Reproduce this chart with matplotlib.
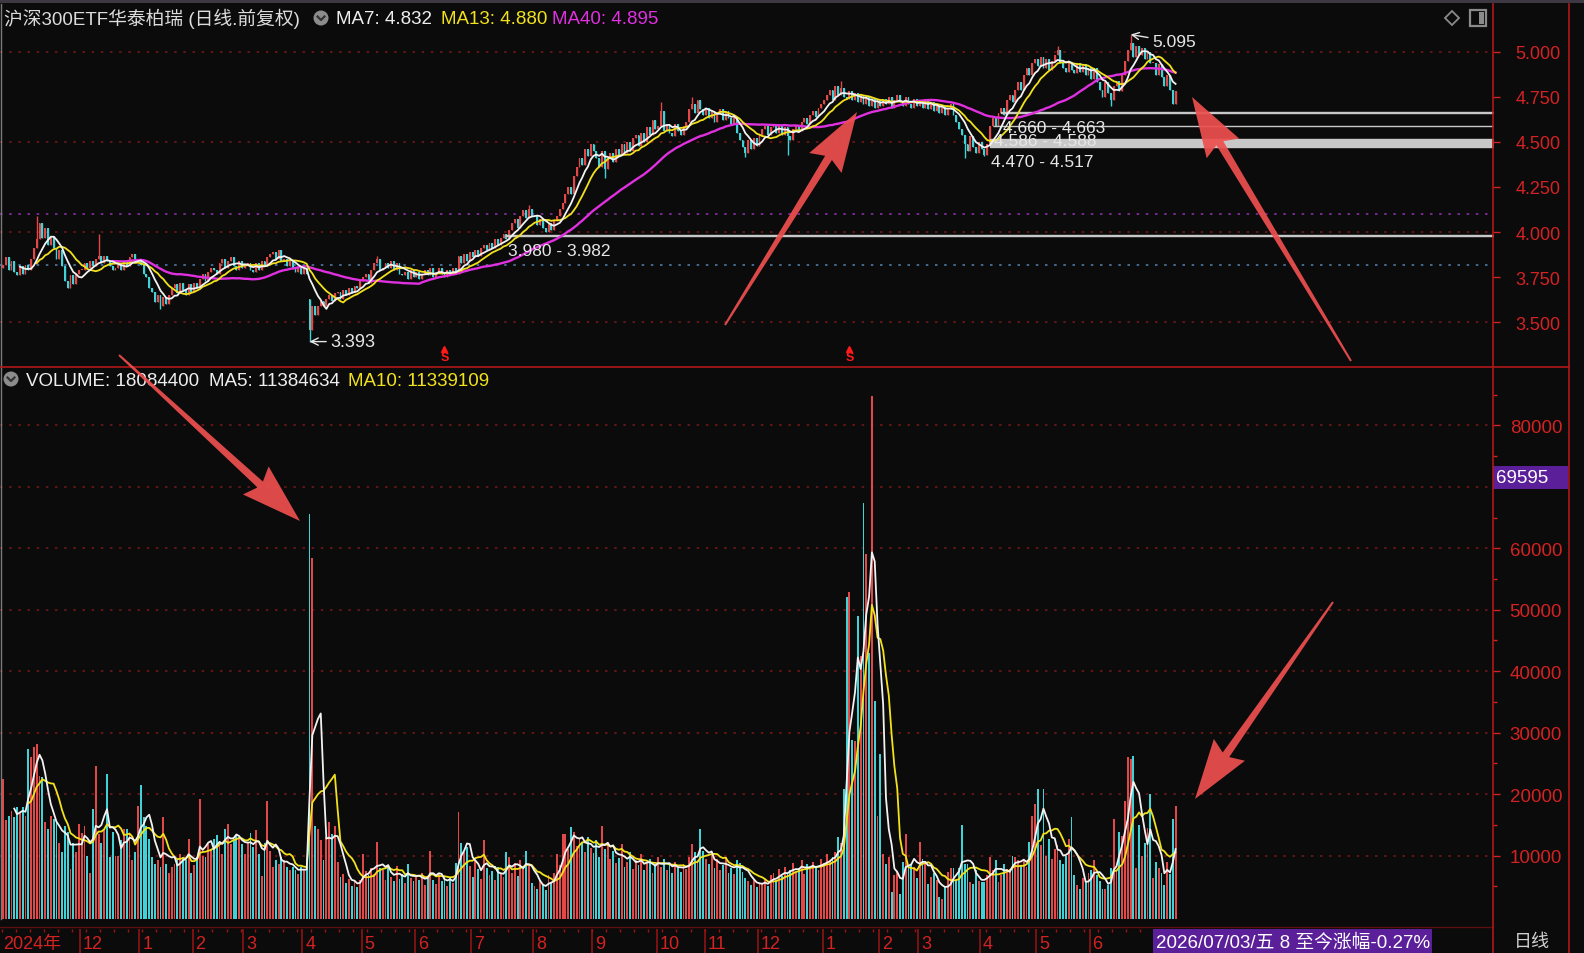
import numpy as np
import pandas as pd
import matplotlib
matplotlib.use("Agg")
import matplotlib.pyplot as plt
import matplotlib.transforms as mtransforms
from matplotlib.patches import Polygon, Rectangle, Circle

plt.rcParams["font.family"] = ["Liberation Sans", "Noto Sans CJK SC", "DejaVu Sans"]

# ---- daily closes, one list per month ----
close_nov24 = [3.82, 3.86, 3.79, 3.84, 3.78, 3.76, 3.81, 3.77, 3.82, 3.79,
               3.85, 3.91, 3.96, 4.05, 3.97, 4.02, 3.93, 3.98, 3.91, 3.85,
               3.90, 3.81, 3.73, 3.69, 3.76, 3.71, 3.77, 3.79]
close_dec24 = [3.79, 3.83, 3.80, 3.84, 3.81, 3.85, 3.87, 3.83, 3.87, 3.84,
               3.81, 3.79, 3.80, 3.82, 3.79, 3.84, 3.81, 3.86, 3.88, 3.84, 3.85]
close_jan25 = [3.82, 3.77, 3.75, 3.69, 3.67, 3.61, 3.65, 3.59, 3.64, 3.60,
               3.65, 3.69, 3.71, 3.66, 3.72, 3.68, 3.65, 3.71, 3.67]
close_feb25 = [3.72, 3.69, 3.74, 3.77, 3.73, 3.78, 3.80, 3.79, 3.77, 3.83,
               3.85, 3.80, 3.84, 3.86, 3.81, 3.79, 3.84, 3.80]
close_mar25 = [3.81, 3.83, 3.79, 3.78, 3.83, 3.79, 3.84, 3.81, 3.86, 3.88,
               3.89, 3.85, 3.90, 3.84, 3.85, 3.81, 3.84, 3.80, 3.78, 3.81, 3.77]
close_apr25 = [3.80, 3.77, 3.46, 3.59, 3.54, 3.59, 3.62, 3.59, 3.63, 3.65,
               3.62, 3.66, 3.67, 3.63, 3.68, 3.65, 3.69, 3.66, 3.70, 3.69, 3.73]
close_may25 = [3.75, 3.77, 3.72, 3.79, 3.83, 3.85, 3.79, 3.80, 3.83, 3.80,
               3.84, 3.79, 3.83, 3.77, 3.76, 3.78, 3.74, 3.79, 3.75]
close_jun25 = [3.78, 3.74, 3.77, 3.79, 3.76, 3.80, 3.75, 3.78, 3.80, 3.77,
               3.75, 3.79, 3.76, 3.80, 3.77, 3.87, 3.83, 3.88, 3.84, 3.89]
close_jul25 = [3.86, 3.90, 3.87, 3.91, 3.93, 3.90, 3.94, 3.91, 3.96, 3.93,
               3.97, 3.99, 3.96, 4.01, 4.05, 4.07, 4.02, 4.09, 4.12, 4.08, 4.13, 4.09]
close_aug25 = [4.09, 4.04, 4.07, 4.02, 4.00, 4.05, 4.01, 4.06, 4.09, 4.13,
               4.16, 4.21, 4.25, 4.21, 4.31, 4.36, 4.41, 4.37, 4.46, 4.42, 4.49]
close_sep25 = [4.45, 4.41, 4.36, 4.45, 4.35, 4.41, 4.44, 4.39, 4.46, 4.43,
               4.49, 4.44, 4.50, 4.45, 4.52, 4.54, 4.48, 4.55, 4.50, 4.58,
               4.54, 4.62, 4.57]
close_oct25 = [4.59, 4.67, 4.56, 4.60, 4.55, 4.53, 4.60, 4.56, 4.54, 4.59,
               4.61, 4.68, 4.71, 4.66, 4.73, 4.68, 4.65]
close_nov25 = [4.69, 4.63, 4.67, 4.61, 4.66, 4.68, 4.62, 4.67, 4.63, 4.60,
               4.64, 4.55, 4.51, 4.47, 4.44, 4.51, 4.46, 4.52, 4.48]
close_dec25 = [4.54, 4.57, 4.59, 4.54, 4.58, 4.60, 4.55, 4.59, 4.54, 4.58,
               4.53, 4.51, 4.57, 4.59, 4.56, 4.61, 4.63, 4.60, 4.65, 4.67,
               4.64, 4.69, 4.71]
close_jan26 = [4.73, 4.76, 4.79, 4.73, 4.81, 4.76, 4.80, 4.75, 4.74, 4.78,
               4.73, 4.77, 4.72, 4.76, 4.71, 4.75, 4.70, 4.74, 4.69, 4.73]
close_feb26 = [4.70, 4.74, 4.71, 4.75, 4.69, 4.73, 4.76, 4.72, 4.70, 4.75,
               4.71, 4.69, 4.74, 4.70]
close_mar26 = [4.73, 4.69, 4.74, 4.68, 4.72, 4.67, 4.71, 4.66, 4.70, 4.65,
               4.69, 4.71, 4.65, 4.61, 4.57, 4.54, 4.49, 4.45, 4.53, 4.47, 4.44, 4.50]
close_apr26 = [4.46, 4.43, 4.49, 4.59, 4.63, 4.59, 4.66, 4.69, 4.65, 4.73,
               4.76, 4.72, 4.79, 4.83, 4.79, 4.87, 4.91, 4.87, 4.94, 4.96]
close_may26 = [4.92, 4.97, 4.91, 4.96, 4.90, 4.95, 4.98, 5.01, 4.94, 4.91,
               4.89, 4.94, 4.90, 4.88, 4.94, 4.89, 4.93, 4.87, 4.91]
close_jun26 = [4.85, 4.91, 4.83, 4.79, 4.75, 4.83, 4.77, 4.73, 4.81, 4.84,
               4.78, 4.87, 4.95, 5.01, 5.05, 4.97, 5.03, 4.98, 5.02, 4.96, 5.00, 4.94]
close_jul26 = [4.94, 4.87, 4.93, 4.86, 4.81, 4.87, 4.79, 4.71, 4.78]

# ---- volume, in the units of the right axis ----
vol_nov24 = [22500, 15700, 16500, 17300, 16200, 17900, 17100, 17900, 16500, 27300,
             26000, 27600, 28100, 23000, 22700, 15400, 14300, 16500, 16000, 15400,
             12000, 10500, 14800, 13800, 7800, 12000, 10500, 15100]
vol_dec24 = [13700, 14800, 10000, 7200, 17600, 24600, 13500, 12000, 14300, 23300,
             9700, 13800, 10000, 10000, 12500, 14300, 14300, 13500, 9200, 10500, 18100]
vol_jan25 = [21400, 16200, 14800, 12700, 9700, 8700, 9300, 8100, 16300, 8700,
             7100, 8200, 8700, 9200, 10300, 9700, 9200, 12700, 7200]
vol_feb25 = [8500, 9700, 19200, 10000, 9700, 11900, 11000, 12700, 13300, 12200,
             10300, 14300, 15100, 11900, 12500, 13300, 13000, 11900]
vol_mar25 = [10300, 12000, 13600, 11400, 14200, 10300, 6600, 12000, 18900, 10800,
             8100, 9200, 8700, 9800, 9200, 8100, 7600, 8100, 7600, 7000, 8200]
vol_apr25 = [7600, 8100, 65600, 58400, 14800, 14300, 12500, 9200, 13000, 15500,
             13500, 14800, 9000, 6500, 7000, 5500, 6200, 5000, 5800, 4800, 6000]
vol_may25 = [10200, 7500, 6800, 8000, 7000, 12200, 8000, 7600, 6000, 8400,
             6500, 5800, 8300, 6200, 7000, 5600, 8600, 6400, 5800]
vol_jun25 = [6900, 6000, 7200, 5200, 6400, 10800, 6000, 5400, 7000, 5800,
             6500, 5000, 6400, 5600, 8800, 17100, 12000, 10500, 11400, 8300]
vol_jul25 = [6500, 9200, 7800, 6200, 12500, 8000, 6800, 7500, 6000, 8200,
             7000, 6500, 10500, 9760, 7200, 8800, 6600, 9200, 7800, 10800, 8400, 5500]
vol_aug25 = [5000, 4600, 6000, 5200, 4400, 6800, 5600, 7200, 10200, 8500,
             13500, 13500, 11000, 14600, 13800, 11600, 12800, 12000, 10500, 13000, 11200]
vol_sep25 = [10400, 12500, 9800, 14800, 11000, 12200, 9500, 10800, 8800, 9600,
             11800, 8200, 9000, 10500, 7800, 9200, 8500, 10200, 7600, 8800,
             9500, 7200, 8600]
vol_oct25 = [9800, 8200, 9400, 7600, 8800, 7200, 9000, 8000, 7400, 8600,
             7800, 9800, 11800, 10600, 9200, 14300, 10800]
vol_nov25 = [9400, 8600, 10200, 8000, 9400, 7600, 8400, 9800, 7200, 8000,
             7000, 9200, 8800, 7400, 6400, 5800, 5200, 6000, 4800]
vol_dec25 = [5600, 5400, 6200, 5000, 6800, 7200, 6000, 7800, 6600, 8200,
             7000, 7600, 8800, 7400, 8000, 9200, 7000, 8600, 7800, 9000,
             8200, 7600, 9400]
vol_jan26 = [8800, 10200, 9200, 9800, 10500, 13000, 12000, 20800, 52000, 52900,
             28800, 28600, 48900, 42500, 67400, 59000, 43000, 84800, 35100, 16400]
vol_feb26 = [26500, 10200, 8600, 9800, 4000, 6800, 7500, 3700, 9000, 13500,
             8000, 8600, 8200, 6300]
vol_mar26 = [12200, 9500, 8600, 5300, 6500, 7100, 6000, 3300, 3000, 5000,
             7400, 7900, 7900, 6000, 7900, 14900, 8600, 8600, 5700, 5400, 7600, 5800]
vol_apr26 = [5700, 5700, 6800, 9800, 7600, 9200, 5700, 6800, 8600, 7800,
             7800, 10000, 9800, 9200, 8400, 9200, 8200, 12200, 16500, 18400]
vol_may26 = [20800, 11700, 20800, 10000, 12700, 9500, 11000, 11700, 9200, 8600,
             10000, 12700, 16200, 6800, 5200, 4600, 6300, 5700, 7100]
vol_jun26 = [7600, 9200, 6800, 5800, 4600, 4600, 5200, 7900, 16000, 7600,
             13800, 13200, 18900, 26000, 25700, 26200, 7900, 14900, 10000, 12000,
             14400, 20000]
vol_jul26 = [6300, 9000, 7900, 7200, 5200, 9000, 7000, 16000, 18084]

month_labels = ["2024年", "12", "1", "2", "3", "4", "5", "6", "7", "8", "9",
                "10", "11", "12", "1", "2", "3", "4", "5", "6", ""]

# candles whose open / wick differ from the plain body
open_fix = {0: 3.80, 109: 3.63}
high_fix = {12: 4.09, 34: 3.99, 133: 3.87, 187: 4.15, 234: 4.72, 245: 4.75,
            298: 4.84, 375: 5.03, 401: 5.095}
low_fix = {56: 3.575, 109: 3.393, 214: 4.30, 264: 4.415, 279: 4.43, 342: 4.41,
           349: 4.42, 394: 4.70}

# price zones drawn on the chart
zone_lo = [3.980, 4.660, 4.586, 4.470]
zone_hi = [3.982, 4.663, 4.588, 4.517]
zone_start = [179, 355, 352, 351]
level_purple = 4.10
level_blue = 3.815
signal_idx = [157, 301]

closes_by_month = [close_nov24, close_dec24, close_jan25, close_feb25, close_mar25,
                   close_apr25, close_may25, close_jun25, close_jul25, close_aug25,
                   close_sep25, close_oct25, close_nov25, close_dec25, close_jan26,
                   close_feb26, close_mar26, close_apr26, close_may26, close_jun26,
                   close_jul26]
vols_by_month = [vol_nov24, vol_dec24, vol_jan25, vol_feb25, vol_mar25, vol_apr25,
                 vol_may25, vol_jun25, vol_jul25, vol_aug25, vol_sep25, vol_oct25,
                 vol_nov25, vol_dec25, vol_jan26, vol_feb26, vol_mar26, vol_apr26,
                 vol_may26, vol_jun26, vol_jul26]

close = np.concatenate(closes_by_month).astype(float)
vol = np.concatenate(vols_by_month).astype(float)
n = len(close)
idx = np.arange(n)
month_start = np.cumsum([0] + [len(m) for m in closes_by_month[:-1]])

opn = np.r_[close[0], close[:-1]]
for k, v in open_fix.items():
    opn[k] = v
hi = np.maximum(opn, close)
lo = np.minimum(opn, close)
for k, v in high_fix.items():
    hi[k] = v
for k, v in low_fix.items():
    lo[k] = v

UP, DOWN = "#e24848", "#3fd2d6"
col = np.where(close >= opn, UP, DOWN)
BG = "#0b0b0b"
RED = "#d42222"
GRID = "#6e1818"

s = pd.Series(close)
ma7, ma13, ma40 = s.rolling(7).mean(), s.rolling(13).mean(), s.rolling(40).mean()
sv = pd.Series(vol)
vma5, vma10 = sv.rolling(5).mean(), sv.rolling(10).mean()

W, H = 1584, 954
fig = plt.figure(figsize=(W / 100, H / 100), dpi=100, facecolor=BG)


def rect(x0, y0, x1, y1):
    return [x0 / W, 1 - y1 / H, (x1 - x0) / W, (y1 - y0) / H]


xl = (-3 / 2.812, (1493 - 3) / 2.812)

# ---------------- price panel ----------------
ax = fig.add_axes(rect(0, 5, 1493, 367), facecolor=BG)
ax.set_xlim(*xl)
ax.set_ylim(3.2577, 5.2644)
for sp in ax.spines.values():
    sp.set_visible(False)
ax.set_xticks([])
ax.yaxis.tick_right()
pt = [3.5, 3.75, 4.0, 4.25, 4.5, 4.75, 5.0]
ax.set_yticks(pt)
ax.set_yticklabels([f"{v:.3f}" for v in pt])
ax.tick_params(axis="y", colors=RED, labelcolor=RED, length=5, width=1, pad=11, labelsize=13)

for g in [3.5, 4.0, 4.5, 5.0]:
    ax.axhline(g, xmax=0.997, color=GRID, lw=1.2, ls=(0, (1.5, 4)), zorder=0.5)
ax.axhline(level_purple, xmax=0.997, color="#8a2fa8", lw=1.2, ls=(0, (1.5, 4)), zorder=0.5)
ax.axhline(level_blue, xmax=0.997, color="#4f79a8", lw=1.2, ls=(0, (1.5, 4)), zorder=0.5)

ax.vlines(idx, lo, hi, colors=col, lw=1.0, zorder=2)
ax.bar(idx, np.maximum(np.abs(close - opn), 0.004), bottom=np.minimum(opn, close),
       width=0.66, color=col, lw=0, zorder=2)

for zl, zh, st in zip(zone_lo, zone_hi, zone_start):
    ax.fill_between([st, xl[1]], zl, zh, color="#c8c8c8", edgecolor="#c8c8c8", lw=1.0, zorder=2.5)
    ax.annotate(f"{zl:.3f} - {zh:.3f}", (st, zl), xytext=(1, -10.5), textcoords="offset points",
                color="#e6e6e6", fontsize=12.5, va="center", ha="left", zorder=5)

ax.plot(idx, ma40, color="#e030e0", lw=1.7, zorder=3)
ax.plot(idx, ma13, color="#f2e21c", lw=1.3, zorder=3.1)
ax.plot(idx, ma7, color="#f2f2f2", lw=1.3, zorder=3.2)

ilow = int(np.argmin(lo))
ihigh = int(np.argmax(hi))
ax.annotate(f"{lo[ilow]:.3f}", (ilow, lo[ilow]), xytext=(15, 0), textcoords="offset points",
            color="#e6e6e6", fontsize=13, va="center", ha="left",
            arrowprops=dict(arrowstyle="->", color="#e6e6e6", lw=1, shrinkA=1, shrinkB=0))
ax.annotate(f"{hi[ihigh]:.3f}", (ihigh, hi[ihigh]), xytext=(15.5, -5.3), textcoords="offset points",
            color="#e6e6e6", fontsize=12.5, va="center", ha="left",
            arrowprops=dict(arrowstyle="->", color="#e6e6e6", lw=1, shrinkA=1, shrinkB=0))

trans = mtransforms.blended_transform_factory(ax.transData, ax.transAxes)
for si in signal_idx:
    ax.text(si, 0.008, "S", transform=trans, color="#ff1a1a", fontsize=9, fontweight="bold",
            ha="center", va="bottom", zorder=5)
    ax.plot([si], [0.048], transform=trans, marker="^", ms=4, color="#ff1a1a", zorder=5)

# ---------------- volume panel ----------------
vbot = -330
av = fig.add_axes(rect(0, 369, 1493, 920), facecolor=BG)
av.set_xlim(*xl)
av.set_ylim(vbot, 89340)
for sp in av.spines.values():
    sp.set_visible(False)
av.set_xticks([])
av.yaxis.tick_right()
vt = list(range(10000, 90000, 10000))
av.set_yticks(vt)
# the 70000 label sits under the purple cursor box
av.set_yticklabels([str(v) if v != 70000 else "" for v in vt])
av.set_yticks(list(range(5000, 90000, 10000)), minor=True)
av.tick_params(axis="y", which="major", colors=RED, labelcolor=RED, length=5, width=1, pad=7, labelsize=13.5)
av.tick_params(axis="y", which="minor", colors=RED, length=3, width=1)
for g in vt:
    av.axhline(g, xmax=0.997, color=GRID, lw=1.2, ls=(0, (1.5, 4)), zorder=0.5)
av.bar(idx, vol - vbot, bottom=vbot, width=0.66, color=col, lw=0, zorder=2)
av.plot(idx, vma10, color="#f2e21c", lw=1.3, zorder=3)
av.plot(idx, vma5, color="#f2f2f2", lw=1.3, zorder=3.1)

# ---------------- date strip ----------------
ab = fig.add_axes(rect(0, 920, 1493, 954), facecolor=BG)
ab.set_xlim(*xl)
ab.set_ylim(0, 34)
ab.set_axis_off()
for k, lab in zip(month_start[1:], month_labels[1:]):
    if lab:
        ab.vlines(k - 0.5, 0, 24, color="#9a1414", lw=1.1)
        ab.annotate(lab, (k - 0.5, 9.5), xytext=(2, 0), textcoords="offset points",
                    color=RED, fontsize=13, va="center", ha="left")
ab.vlines(np.arange(0, n, 5) - 0.5, 21, 24, color="#9a1414", lw=1)
ab.text(0, 9.5, month_labels[0], color=RED, fontsize=13, va="center", ha="left")

# ---------------- overlay: frame, headers, arrows ----------------
ov = fig.add_axes([0, 0, 1, 1])
ov.set_xlim(0, W)
ov.set_ylim(H, 0)
ov.set_axis_off()
ov.add_patch(Rectangle((0, 0), W, 4, color="#3e3842", lw=0))
ov.plot([1, 1], [5, 920], color="#7a7a7a", lw=1)
ov.plot([0, 1569], [367.5, 367.5], color="#b01818", lw=1.2)
ov.plot([0, 1493], [928, 928], color="#5a1010", lw=1)
ov.plot([1493, 1493], [5, 954], color="#b01818", lw=1.2)
ov.plot([1569, 1569], [5, 954], color="#b01818", lw=1.2)


def chevron_icon(x, y):
    ov.add_patch(Circle((x, y), 7.5, color="#8c8c8c", lw=0))
    ov.plot([x - 3.5, x, x + 3.5], [y - 1.5, y + 2, y - 1.5], color="#333333", lw=1.6)


chevron_icon(321, 19)
chevron_icon(11, 380)

hdr = dict(fontsize=13.5, va="center", ha="left")
ov.text(4, 19, "沪深300ETF华泰柏瑞 (日线.前复权)", color="#dcdcdc", **hdr)
ov.text(336, 19, "MA7: 4.832", color="#eeeeee", **hdr)
ov.text(441, 19, "MA13: 4.880", color="#f2e21c", **hdr)
ov.text(552, 19, "MA40: 4.895", color="#e030e0", **hdr)
ov.text(26, 382, "VOLUME: 18084400", color="#eeeeee", **hdr)
ov.text(209, 382, "MA5: 11384634", color="#eeeeee", **hdr)
ov.text(348, 382, "MA10: 11339109", color="#f2e21c", **hdr)

ov.add_patch(Polygon([[1452, 12], [1459, 19], [1452, 26], [1445, 19]], closed=True,
                     fill=False, edgecolor="#8a8a8a", lw=1.3))
ov.add_patch(Rectangle((1470, 11), 16, 16, fill=False, edgecolor="#8a8a8a", lw=1.6))
ov.add_patch(Rectangle((1479, 13), 5, 12, color="#8a8a8a", lw=0))

ov.add_patch(Rectangle((1493, 467), 75, 23, color="#5b1f9a", lw=0))
ov.text(1496, 478.5, "69595", color="#ffffff", fontsize=13.5, va="center", ha="left")
ov.add_patch(Rectangle((1153, 930), 279, 24, color="#5b1f9a", lw=0))
ov.text(1156, 942, "2026/07/03/五 8 至今涨幅-0.27%", color="#ffffff", fontsize=13.5,
        va="center", ha="left")
ov.text(1514, 943, "日线", color="#d0d0d0", fontsize=13, va="center", ha="left")


def big_arrow(tail, tip, w0=2.0, w1=8.0, hw=38.0, hl=54.0):
    x0, y0 = tail
    x1, y1 = tip
    L = np.hypot(x1 - x0, y1 - y0)
    ux, uy = (x1 - x0) / L, (y1 - y0) / L
    px, py = -uy, ux
    bx, by = x1 - ux * hl, y1 - uy * hl
    pts = [(x0 + px * w0 / 2, y0 + py * w0 / 2),
           (bx + px * w1 / 2, by + py * w1 / 2),
           (bx - ux * 6 + px * hw / 2, by - uy * 6 + py * hw / 2),
           (x1, y1),
           (bx - ux * 6 - px * hw / 2, by - uy * 6 - py * hw / 2),
           (bx - px * w1 / 2, by - py * w1 / 2),
           (x0 - px * w0 / 2, y0 - py * w0 / 2)]
    ov.add_patch(Polygon(pts, closed=True, color="#ef4f4f", alpha=0.92, lw=0, zorder=10))


big_arrow((725, 326), (857, 113))
big_arrow((1351, 362), (1192, 98))
big_arrow((119, 356), (300, 522))
big_arrow((1333, 603), (1195, 800))

fig.savefig("out.png", dpi=100, facecolor=BG)
